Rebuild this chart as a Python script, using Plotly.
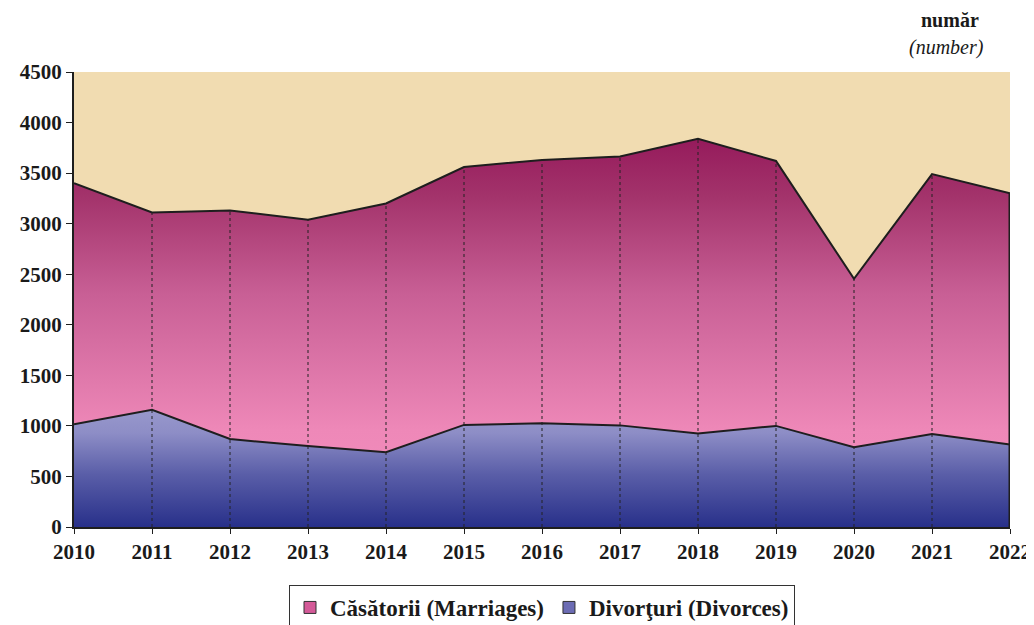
import plotly.graph_objects as go

years = list(range(2010, 2023))
marriages = [3400, 3110, 3130, 3040, 3200, 3560, 3630, 3665, 3840, 3620, 2455, 3490, 3300]
divorces = [1015, 1160, 870, 800, 740, 1010, 1025, 1005, 925, 1000, 790, 920, 815]
y_ticks = list(range(0, 4501, 500))
names = ["Căsătorii (Marriages)", "Divorţuri (Divorces)"]

serif = "Liberation Serif"

# the page body adds an 8px margin, so the figure is 8px smaller each way
W, H = 1026, 617
L, T, R, B = 66, 64, 24, 98
pw, ph = W - L - R, H - T - B

fig = go.Figure()

fig.add_trace(go.Scatter(
    x=years, y=marriages, name=names[0], showlegend=False,
    mode="lines", fill="tozeroy",
    line=dict(color="#1e1e1e", width=2),
    fillgradient=dict(type="vertical", start=0, stop=3850,
                      colorscale=[[0, "#f590bf"], [0.25, "#ee88b8"], [0.6, "#c85f95"],
                                  [0.85, "#a3336b"], [1, "#951a5b"]]),
    fillcolor="#d0609a",
))

fig.add_trace(go.Scatter(
    x=years, y=divorces, name=names[1], showlegend=False,
    mode="lines", fill="tozeroy",
    line=dict(color="#1e1e1e", width=2),
    fillgradient=dict(type="vertical", start=0, stop=1160,
                      colorscale=[[0, "#28308a"], [0.45, "#5a5ea8"], [0.8, "#8d8dc6"],
                                  [1, "#9898cc"]]),
    fillcolor="#6a6ab0",
))

# drop lines from each year up to the marriages line
dx, dy = [], []
for x, y in zip(years[1:-1], marriages[1:-1]):
    dx += [x, x, None]
    dy += [0, y, None]
fig.add_trace(go.Scatter(x=dx, y=dy, mode="lines", showlegend=False, hoverinfo="skip",
                         line=dict(color="#222222", width=1, dash="dot")))
fig.add_trace(go.Scatter(x=[years[-1], years[-1]], y=[0, marriages[-1]], mode="lines",
                         showlegend=False, hoverinfo="skip",
                         line=dict(color="#1e1e1e", width=3)))

# legend entries with square swatches
fig.add_trace(go.Bar(x=[None], y=[None], name=names[0],
                     marker=dict(color="#d45a98", line=dict(color="#333333", width=1))))
fig.add_trace(go.Bar(x=[None], y=[None], name=names[1],
                     marker=dict(color="#6c6cb4", line=dict(color="#333333", width=1))))

fig.update_layout(
    width=W, height=H,
    margin=dict(l=L, r=R, t=T, b=B, autoexpand=False),
    paper_bgcolor="white",
    plot_bgcolor="#f1dcb1",
    font=dict(family=serif, size=20, color="#1a1a1a"),
    showlegend=True,
    legend=dict(orientation="h", x=0.5, xanchor="center", y=-(577 - 519) / ph, yanchor="top",
                bordercolor="#333333", borderwidth=1, bgcolor="white",
                font=dict(family=serif, size=23, color="#1a1a1a", weight="bold"),
                itemwidth=30, traceorder="normal", tracegroupgap=0),
    annotations=[
        dict(text="<b>număr</b>", xref="paper", yref="paper",
             x=(942 - L) / pw, y=1 + (T - 12) / ph,
             xanchor="center", yanchor="middle", showarrow=False, font=dict(size=20)),
        dict(text="<i>(number)</i>", xref="paper", yref="paper",
             x=(938 - L) / pw, y=1 + (T - 40) / ph,
             xanchor="center", yanchor="middle", showarrow=False, font=dict(size=20)),
    ],
)

fig.update_xaxes(range=[2010, 2022], tickvals=years, showgrid=False, zeroline=False,
                 showline=True, linecolor="#1e1e1e", linewidth=2,
                 ticks="outside", ticklen=5, tickcolor="#1e1e1e",
                 tickfont=dict(family=serif, size=21, weight="bold"))
fig.update_yaxes(range=[0, 4500], tickvals=y_ticks, showgrid=False, zeroline=False,
                 showline=True, linecolor="#1e1e1e", linewidth=2,
                 ticks="outside", ticklen=6, tickcolor="#1e1e1e",
                 tickfont=dict(family=serif, size=21, weight="bold"))

fig.write_html("out.html")
